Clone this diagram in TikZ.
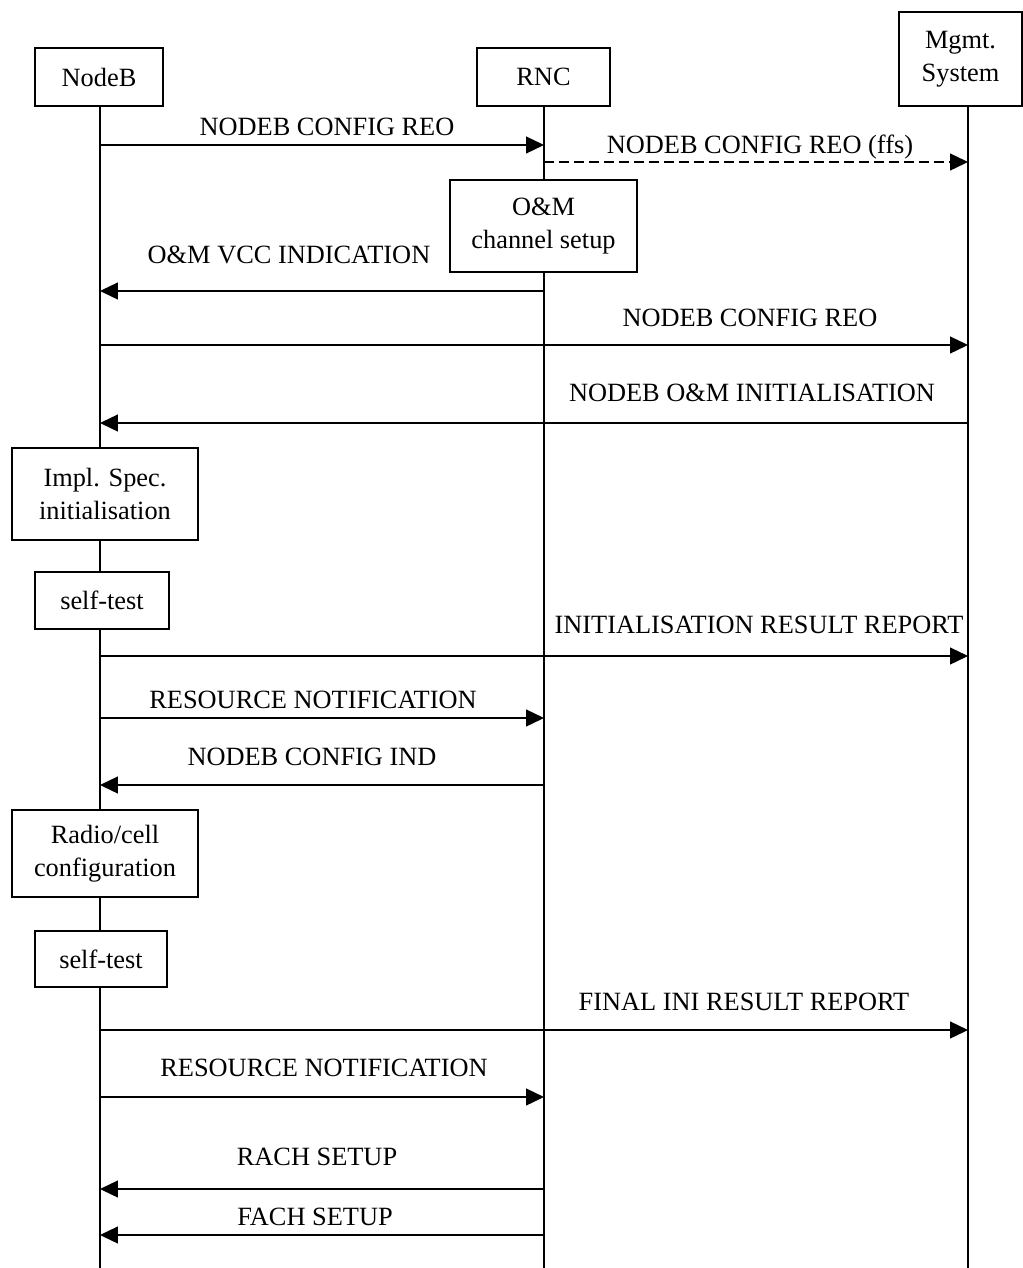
\documentclass[tikz,border=0pt]{standalone}
\usepackage{fontspec}
\setmainfont{Liberation Serif}
\usetikzlibrary{arrows.meta,positioning}

\begin{document}
\begin{tikzpicture}[
    x=0.02cm,
    y=-0.02cm,
    >={Triangle[length=0.36cm,width=0.34cm]},
    font=\fontsize{15}{19}\selectfont,
    entity/.style={draw, fill=white, line width=0.75pt, align=center, inner sep=0pt},
    life/.style={line width=0.75pt},
    msg/.style={->, line width=0.75pt},
    ffsmsg/.style={msg, dash pattern=on 0.2cm off 0.1cm},
    lbl/.style={anchor=base, inner sep=0pt},
  ]
  \useasboundingbox (0,0) rectangle (1023,1268);

  % === Entities ===
  \node[entity, minimum width=2.56cm, minimum height=1.16cm] (nb) at (99,77) {NodeB};
  \node[entity, minimum width=2.66cm, minimum height=1.16cm] (rnc) at (543.5,77) {RNC};
  \node[entity, minimum width=2.46cm, minimum height=1.88cm] (ms) at (960.5,59) {Mgmt.\\System};

  % === Lifelines ===
  \coordinate (nbl) at (100,0);
  \coordinate (rncl) at (544,0);
  \coordinate (msl) at (968,0);
  \draw[life] (nbl |- nb.south) -- (nbl |- 0,1268);
  \draw[life] (rncl |- rnc.south) -- (rncl |- 0,1268);
  \draw[life] (msl |- ms.south) -- (msl |- 0,1268);

  % === Local actions ===
  \node[entity, minimum width=3.74cm, minimum height=1.84cm] (oam) at (543.5,226) {O\&M\\channel setup};
  \node[entity, minimum width=3.72cm, minimum height=1.84cm] (impl) at (105,494) {Impl. Spec.\\initialisation};
  \node[entity, minimum width=2.68cm, minimum height=1.14cm] (test1) at (102,600.5) {self-test};
  \node[entity, minimum width=3.72cm, minimum height=1.74cm] (radio) at (105,853.5) {Radio/cell\\configuration};
  \node[entity, minimum width=2.64cm, minimum height=1.12cm] (test2) at (101,959) {self-test};

  % === Messages ===
  \draw[msg] (nbl |- 0,145) -- (rncl |- 0,145);
  \node[lbl] (m1) at (327,135) {NODEB CONFIG REO};

  \draw[ffsmsg] (rncl |- 0,162) -- (msl |- 0,162);
  \node[lbl] (m2) at (760,153) {NODEB CONFIG REO (ffs)};

  \draw[msg] (rncl |- 0,291) -- (nbl |- 0,291);
  \node[lbl] (m3) at (289,263) {O\&M VCC INDICATION};

  \draw[msg] (nbl |- 0,345) -- (msl |- 0,345);
  \node[lbl] (m4) at (750,326) {NODEB CONFIG REO};

  \draw[msg] (msl |- 0,423) -- (nbl |- 0,423);
  \node[lbl] (m5) at (752,401) {NODEB O\&M INITIALISATION};

  \draw[msg] (nbl |- 0,656) -- (msl |- 0,656);
  \node[lbl] (m6) at (759,633) {INITIALISATION RESULT REPORT};

  \draw[msg] (nbl |- 0,718) -- (rncl |- 0,718);
  \node[lbl] (m7) at (313,708) {RESOURCE NOTIFICATION};

  \draw[msg] (rncl |- 0,785) -- (nbl |- 0,785);
  \node[lbl] (m8) at (312,765) {NODEB CONFIG IND};

  \draw[msg] (nbl |- 0,1030) -- (msl |- 0,1030);
  \node[lbl] (m9) at (744,1010) {FINAL INI RESULT REPORT};

  \draw[msg] (nbl |- 0,1097) -- (rncl |- 0,1097);
  \node[lbl] (m10) at (324,1076) {RESOURCE NOTIFICATION};

  \draw[msg] (rncl |- 0,1189) -- (nbl |- 0,1189);
  \node[lbl] (m11) at (317,1165) {RACH SETUP};

  \draw[msg] (rncl |- 0,1235) -- (nbl |- 0,1235);
  \node[lbl] (m12) at (315,1225) {FACH SETUP};

\end{tikzpicture}
\end{document}
